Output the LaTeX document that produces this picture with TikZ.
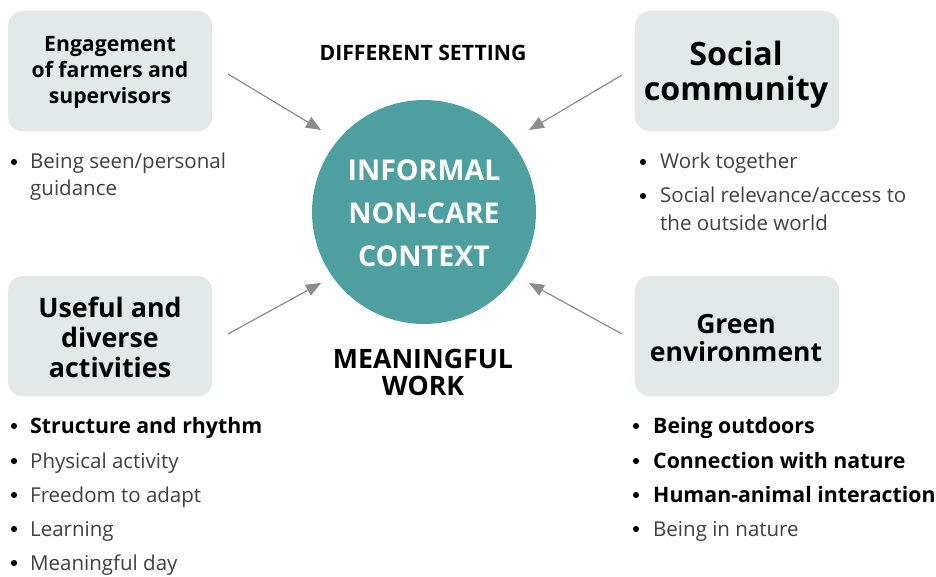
\documentclass[tikz,border=0pt]{standalone}
\usepackage{fontspec}
\setmainfont{Open Sans}
\usetikzlibrary{arrows.meta}
\definecolor{boxfill}{HTML}{E1E9E9}
\definecolor{teal}{HTML}{4E9FA0}
\definecolor{arrowgray}{HTML}{8C8C8C}
\definecolor{lighttext}{HTML}{404040}
\begin{document}
\begin{tikzpicture}[x=1pt,y=-1pt,
  catbox/.style={draw=none,fill=boxfill,rounded corners=14pt,minimum width=204pt,minimum height=120pt,anchor=north west,inner sep=0pt},
  boxtitle/.style={align=center,text=black,inner sep=0pt},
  item/.style={anchor=base west,inner sep=0pt,text=lighttext,font=\fontsize{20.5}{27}\selectfont},
  bitem/.style={anchor=base west,inner sep=0pt,text=black,font=\fontsize{21.3}{27}\selectfont\bfseries},
  dot/.style={circle,fill=black,inner sep=0pt,minimum size=6.2pt},
  conn/.style={draw=arrowgray,line width=1.2pt,-{Triangle[length=15pt,width=12pt]}}
]
\useasboundingbox (0,0) rectangle (936,577);

% boxes
\node[catbox] (b1) at (8,11) {};
\node[catbox] (b2) at (635,11) {};
\node[catbox] (b3) at (8,276) {};
\node[catbox] (b4) at (635,276) {};

\node[boxtitle,font=\fontsize{21.2}{26}\selectfont\bfseries] (t1) at (110,72) {Engagement\\of farmers and\\supervisors};
\node[boxtitle,font=\fontsize{32.2}{35}\selectfont\bfseries] (t2) at (736,75) {Social\\community};
\node[boxtitle,font=\fontsize{26.8}{30}\selectfont\bfseries] (t3) at (110,337) {Useful and\\diverse\\activities};
\node[boxtitle,font=\fontsize{26.5}{28}\selectfont\bfseries] (t4) at (736,338) {Green\\environment};

% circle
\node[circle,fill=teal,minimum size=224pt,inner sep=0pt] (c) at (424,212) {};
\node[align=center,text=white,font=\fontsize{28.6}{43}\selectfont\bfseries,inner sep=0pt] (ct) at (424,213) {INFORMAL\\NON-CARE\\CONTEXT};

% labels
\node[font=\fontsize{21.2}{24}\selectfont\bfseries,inner sep=0pt] (ds) at (423,53) {DIFFERENT SETTING};
\node[align=center,font=\fontsize{26.7}{27}\selectfont\bfseries,inner sep=0pt] (mw) at (423,372) {MEANINGFUL\\WORK};

% arrows
\coordinate (a1s) at (228,74);  \coordinate (a1e) at (321,130);
\coordinate (a2s) at (622,75);  \coordinate (a2e) at (529,130);
\coordinate (a3s) at (228,334); \coordinate (a3e) at (321,283);
\coordinate (a4s) at (622,334); \coordinate (a4e) at (529,283);
\draw[conn] (a1s) -- (a1e);
\draw[conn] (a2s) -- (a2e);
\draw[conn] (a3s) -- (a3e);
\draw[conn] (a4s) -- (a4e);

% bullets top-left
\node[dot] (d11) at (14,162) {};
\node[item] (i11) at (30,169) {Being seen/personal};
\node[item] (i11b) at (30,196) {guidance};

% bullets top-right
\node[dot] (d21) at (643,162) {};
\node[item] (i21) at (660,169) {Work together};
\node[dot] (d22) at (643,196) {};
\node[item] (i22) at (660,203) {Social relevance/access to};
\node[item] (i22b) at (660,230) {the outside world};

% bullets bottom-left
\node[dot] (d31) at (14,426) {};
\node[bitem] (i31) at (30,433) {Structure and rhythm};
\node[dot] (d32) at (14,461) {};
\node[item] (i32) at (30,468) {Physical activity};
\node[dot] (d33) at (14,495) {};
\node[item] (i33) at (30,502) {Freedom to adapt};
\node[dot] (d34) at (14,529) {};
\node[item] (i34) at (30,536) {Learning};
\node[dot] (d35) at (14,563) {};
\node[item] (i35) at (30,570) {Meaningful day};

% bullets bottom-right
\node[dot] (d41) at (636,426) {};
\node[bitem] (i41) at (653,433) {Being outdoors};
\node[dot] (d42) at (636,461) {};
\node[bitem] (i42) at (653,468) {Connection with nature};
\node[dot] (d43) at (636,495) {};
\node[bitem] (i43) at (653,502) {Human-animal interaction};
\node[dot] (d44) at (636,529) {};
\node[item] (i44) at (653,536) {Being in nature};
\end{tikzpicture}
\end{document}
